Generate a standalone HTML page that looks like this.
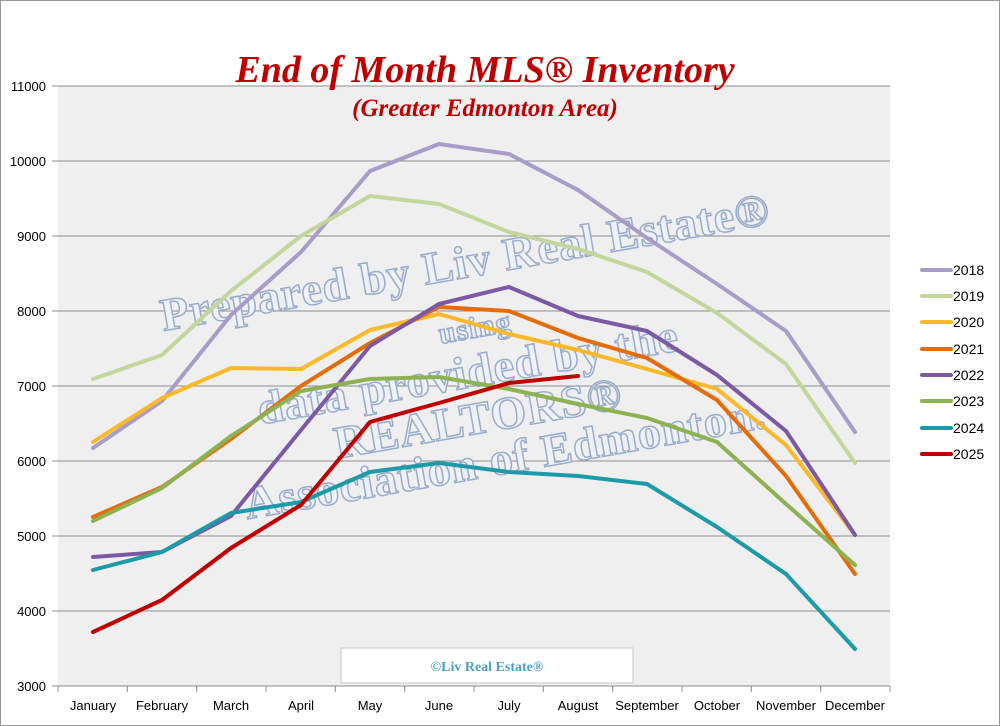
<!DOCTYPE html>
<html><head><meta charset="utf-8"><style>
html,body{margin:0;padding:0;background:#fff}
svg{display:block}
</style></head><body>
<svg width="1000" height="726" viewBox="0 0 1000 726" xmlns="http://www.w3.org/2000/svg" font-family="Liberation Sans, sans-serif">
<rect x="0.5" y="0.5" width="999" height="725" fill="#fff" stroke="#999"/>
<rect x="58" y="86" width="832" height="600" fill="#efefef"/>
<g stroke="#8c8c8c" stroke-width="1">
<line x1="52" x2="890" y1="86" y2="86"/><line x1="52" x2="890" y1="161" y2="161"/>
<line x1="52" x2="890" y1="236" y2="236"/><line x1="52" x2="890" y1="311" y2="311"/>
<line x1="52" x2="890" y1="386" y2="386"/><line x1="52" x2="890" y1="461" y2="461"/>
<line x1="52" x2="890" y1="536" y2="536"/><line x1="52" x2="890" y1="611" y2="611"/>
<line x1="52" x2="890" y1="686" y2="686"/>
<line x1="58" x2="58" y1="686" y2="692"/><line x1="127.3" x2="127.3" y1="686" y2="692"/>
<line x1="196.7" x2="196.7" y1="686" y2="692"/><line x1="266" x2="266" y1="686" y2="692"/>
<line x1="335.3" x2="335.3" y1="686" y2="692"/><line x1="404.7" x2="404.7" y1="686" y2="692"/>
<line x1="474" x2="474" y1="686" y2="692"/><line x1="543.3" x2="543.3" y1="686" y2="692"/>
<line x1="612.7" x2="612.7" y1="686" y2="692"/><line x1="682" x2="682" y1="686" y2="692"/>
<line x1="751.3" x2="751.3" y1="686" y2="692"/><line x1="820.7" x2="820.7" y1="686" y2="692"/>
<line x1="890" x2="890" y1="686" y2="692"/>
</g>
<g font-size="13" fill="#000" text-anchor="end">
<text x="46" y="91">11000</text><text x="46" y="166">10000</text><text x="46" y="241">9000</text>
<text x="46" y="316">8000</text><text x="46" y="391">7000</text><text x="46" y="466">6000</text>
<text x="46" y="541">5000</text><text x="46" y="616">4000</text><text x="46" y="691">3000</text>
</g>
<g font-size="13" fill="#000" text-anchor="middle">
<text x="93" y="710">January</text><text x="162" y="710">February</text><text x="231" y="710">March</text>
<text x="301" y="710">April</text><text x="370" y="710">May</text><text x="439" y="710">June</text>
<text x="509" y="710">July</text><text x="578" y="710">August</text><text x="647" y="710">September</text>
<text x="717" y="710">October</text><text x="786" y="710">November</text><text x="855" y="710">December</text>
</g>
<text x="485" y="82" text-anchor="middle" font-family="Liberation Serif, serif" font-weight="bold" font-style="italic" font-size="38" fill="#c00000">End of Month MLS® Inventory</text>
<text x="485" y="116" text-anchor="middle" font-family="Liberation Serif, serif" font-weight="bold" font-style="italic" font-size="25" fill="#c00000">(Greater Edmonton Area)</text>
<g font-family="Liberation Serif, serif" font-weight="bold" fill="#eef1f7" stroke="#9aaccb" stroke-width="1.5" text-anchor="middle" dominant-baseline="central" letter-spacing="1">
<text font-size="46" transform="translate(465,262) rotate(-10)">Prepared by Liv Real Estate®</text>
<text font-size="30" transform="translate(475,328) rotate(-10)">using</text>
<text font-size="46" transform="translate(468,372) rotate(-10)">data provided by the</text>
<text font-size="46" transform="translate(478,418) rotate(-10)">REALTORS®</text>
<text font-size="46" transform="translate(505,458) rotate(-10)">Association of Edmonton.</text>
</g>
<g fill="none" stroke-width="4" stroke-linejoin="round" stroke-linecap="round">
<polyline stroke="#a89cc8" points="93,448 162,401 231,315 301,252 370,171 439,144 509,154 578,190 647,238 717,284 786,331 855,432"/>
<polyline stroke="#c3d69b" points="93,379 162,355 231,291 301,236 370,196 439,204 509,232 578,249 647,272 717,313 786,364 855,463"/>
<polyline stroke="#fbb828" points="93,442 162,398 231,368 301,369 370,330 439,314 509,334 578,350 647,369 717,389 786,445 855,535"/>
<polyline stroke="#e46c0a" points="93,517 162,487 231,439 301,386 370,343 439,307 509,311 578,338 647,358 717,400 786,476 855,574"/>
<polyline stroke="#7b59a5" points="93,557 162,552 231,516 301,430 370,346 439,304 509,287 578,316 647,331 717,375 786,431 855,535"/>
<polyline stroke="#8db252" points="93,521 162,488 231,436 301,391 370,379 439,377 509,389 578,404 647,418 717,442 786,504 855,565"/>
<polyline stroke="#1d9aa8" points="93,570 162,552 231,513 301,502 370,472 439,463 509,472 578,476 647,484 717,527 786,574 855,649"/>
<polyline stroke="#c00000" points="93,632 162,600 231,548 301,505 370,422 439,403 509,383 578,376"/>
</g>
<rect x="341" y="648" width="292" height="35" fill="#fff" stroke="#c8c8c8"/>
<text x="487" y="671" text-anchor="middle" font-family="Liberation Serif, serif" font-weight="bold" font-size="14" fill="#4aa3c4">©Liv Real Estate®</text>
<g font-size="14" fill="#000" stroke-width="4" stroke-linecap="round">
<line x1="922" x2="951" y1="270" y2="270" stroke="#a89cc8"/><text x="953" y="275">2018</text>
<line x1="922" x2="951" y1="296" y2="296" stroke="#c3d69b"/><text x="953" y="301">2019</text>
<line x1="922" x2="951" y1="322" y2="322" stroke="#fbb828"/><text x="953" y="327">2020</text>
<line x1="922" x2="951" y1="349" y2="349" stroke="#e46c0a"/><text x="953" y="354">2021</text>
<line x1="922" x2="951" y1="375" y2="375" stroke="#7b59a5"/><text x="953" y="380">2022</text>
<line x1="922" x2="951" y1="401" y2="401" stroke="#8db252"/><text x="953" y="406">2023</text>
<line x1="922" x2="951" y1="428" y2="428" stroke="#1d9aa8"/><text x="953" y="433">2024</text>
<line x1="922" x2="951" y1="454" y2="454" stroke="#c00000"/><text x="953" y="459">2025</text>
</g>
</svg>
</body></html>
